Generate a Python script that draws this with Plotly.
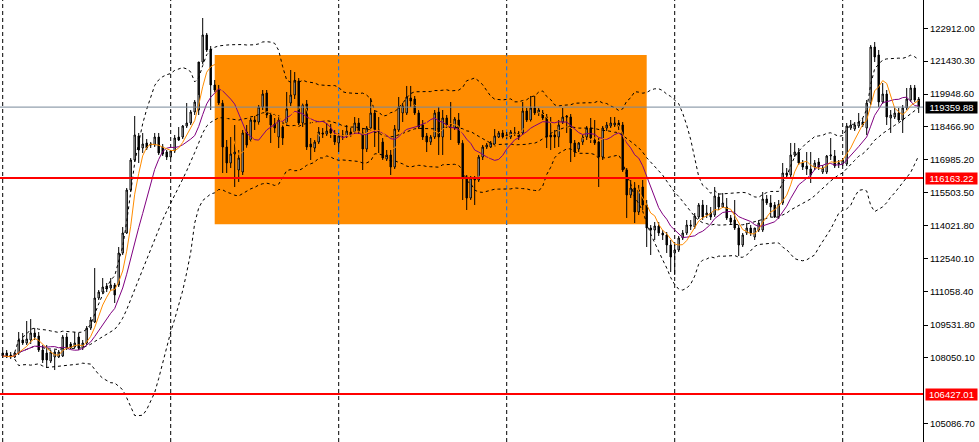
import pandas as pd
import plotly.graph_objects as go

# ---------------- data (BTCUSD H4) ----------------
open_ = [
    108275,108275,108185,108094,108275,108861,108726,108861,109177,109042,
    108410,108275,107914,108094,108094,108140,108996,108681,108545,108996,
    108500,108726,109401,109672,110754,111025,111296,111205,111341,111341,
    112783,113685,115623,116975,118058,117516,117742,117652,117652,118012,
    117561,117336,117110,117381,118012,118012,118508,118643,119139,119229,
    121393,122611,121979,120357,120131,119545,117561,116840,117246,116524,
    116434,118238,117877,118778,118688,119364,119996,119004,118598,118012,
    118462,118643,119545,119906,120537,118643,119500,117697,117516,117787,
    118193,118148,118372,118103,117742,118058,118058,118238,118238,118643,
    118193,117471,118417,119094,118328,117787,117020,117201,116659,118328,
    119094,119094,119770,119725,119094,118553,118058,117787,118012,119139,
    118012,118868,118598,118417,118778,117742,116208,115262,116163,116074,
    117110,117561,117561,117652,118012,118193,118058,118012,118148,118193,
    118193,119184,118778,119319,119094,119094,118913,118103,118103,118012,
    118688,118959,118913,117742,117471,117787,118012,118417,117877,117787,
    117110,118417,118508,118553,118643,118553,116524,115398,115713,114631,
    115758,114947,113910,113820,114000,113685,113594,113143,112783,112918,
    113459,113685,114045,113955,114406,114947,114496,114586,114496,115307,
    114856,114856,114361,114270,113910,113143,113685,113910,113504,113820,
    113820,115217,115037,114947,114406,115037,116389,116299,117201,117336,
    116840,116705,116569,116659,116885,116434,116434,117156,117156,116795,
    116795,116795,118417,118372,118508,118688,118417,119545,122069,121709,
    119590,119951,118868,118913,119094,118778,119319,119680,120221,119725,
]
high = [
    108365,108410,108320,108320,109222,109177,109717,109807,109401,109222,
    108636,108636,108410,108410,108410,109087,109177,108771,109222,109177,
    108861,109492,109897,112106,111115,111655,111431,111655,111431,113053,
    113954,115713,117065,118959,118193,118193,117922,117787,118193,118193,
    117697,117426,117426,118103,118462,118553,119545,119229,119680,119906,
    123376,122701,122115,120582,120357,119680,117877,118012,118553,117426,
    118328,118553,118868,118959,119455,120131,120131,119139,118868,119004,
    118643,120041,121032,120942,120671,119545,119680,117967,117877,118462,
    118417,118643,118598,118328,118193,118328,118553,118417,118913,118868,
    118417,118508,119770,119229,118913,117967,117426,117426,118553,119815,
    119545,120312,120312,119861,119229,118778,118193,118103,119229,119364,
    119229,119004,119590,118913,119094,117877,116299,116254,116254,117201,
    117652,117742,117832,118372,118283,118328,118238,118328,118462,118283,
    119590,119319,119861,119861,119319,119229,119049,118913,118328,118778,
    119319,119004,119049,117877,117787,118103,118508,118868,118778,117967,
    118508,118688,118913,118913,118778,118688,116614,116074,115984,115849,
    116074,115172,114045,114180,114180,113820,113729,113369,113143,113550,
    113820,114270,114270,114586,115037,115172,114947,114856,115758,115488,
    115488,115262,114496,115172,114045,113685,114135,114045,113910,114270,
    115533,115398,115398,115082,115172,116840,116614,117742,117742,117516,
    116975,117336,117336,116975,117065,116750,117201,117967,117426,116975,
    117065,118643,118778,118688,119094,118868,119680,122159,122295,121934,
    120447,120131,119229,119319,119319,119455,120221,120357,120357,119815,
]
low = [
    108049,108049,108004,108049,108185,108636,108636,108681,108861,108320,
    107824,107598,107824,107508,108049,108094,108410,108455,108500,108410,
    108410,108636,109312,109627,110664,110935,111025,111070,110529,111250,
    112693,113640,115533,116885,116840,117291,117426,117516,117561,117201,
    117156,116975,117065,117291,117832,117922,118417,118553,119004,119004,
    121303,121844,119229,120041,119455,116389,116389,116614,115758,115984,
    116299,117516,117787,118328,118553,119229,118868,117742,118193,117516,
    117652,118508,119410,119725,118553,118462,117426,116975,117336,117697,
    117967,118058,117967,117652,117336,117877,117967,118012,118148,118148,
    116524,117336,118328,117561,117291,116975,116930,116299,116569,118238,
    118688,119004,119364,119004,118372,117877,117336,117652,117922,117201,
    117201,118417,117877,118328,117652,115172,114721,115172,114947,115984,
    116975,117471,117516,117561,117967,117922,117922,117922,118058,117877,
    118103,118688,118688,119004,118959,118778,117516,117426,117516,117561,
    118598,118193,116885,117110,117336,117652,117877,117742,117652,115758,
    116975,118283,118417,118462,118328,116434,114361,115262,114135,114496,
    114721,113053,112693,113369,113550,113369,112783,111926,111791,112828,
    113369,113594,113820,113865,114315,114270,114361,114270,114406,114721,
    114811,114270,114045,113820,112648,113053,113594,113550,113369,113729,
    113729,114947,114406,114361,114316,114947,116164,116209,117110,116750,
    116524,116299,115938,116524,116524,116344,116344,116975,116614,116614,
    116705,116705,118328,118283,118417,118462,118103,119455,121393,119364,
    119500,118553,118193,118823,118688,118193,119229,119590,119590,119094,
]
close = [
    108140,108094,108094,108275,108861,108726,108906,109177,108996,108410,
    107959,107959,108320,108320,108320,108996,108500,108500,108726,108500,
    108726,109401,109762,110754,111025,111250,111160,111341,110890,112783,
    113685,115623,116975,118103,117426,117697,117516,117697,118012,117291,
    117246,117110,117381,117967,117877,118508,118643,119139,119590,121393,
    122611,121934,120357,120131,119545,117561,116840,117246,117336,117065,
    118193,117652,118778,118688,119364,119951,119004,118553,118417,118778,
    117967,119274,119906,120537,118643,119500,117561,117561,117787,118238,
    118148,118283,118193,117787,118058,118103,118283,118103,118643,118238,
    117471,118417,119094,118328,118238,117065,117201,116659,118373,119364,
    119410,119815,119635,119094,118462,118012,117787,118012,119094,118012,
    118868,118553,118553,118823,117742,116208,115262,116163,116074,117110,
    117561,117652,117742,118058,118193,118012,118103,118238,118193,118012,
    119184,118778,119319,119094,119229,118868,118012,118012,118012,118553,
    118913,118913,117742,117336,117742,118012,118417,117967,117742,117110,
    118417,118553,118643,118643,118462,116524,115398,115713,114631,115623,
    114947,113910,113820,114000,113685,113594,113143,112602,112918,113459,
    113685,114045,114000,114451,114947,114406,114586,114406,115352,114856,
    115037,114361,114180,113910,113143,113594,113910,113685,113910,114135,
    115217,115037,114856,114406,114992,116389,116299,117201,117336,116840,
    116659,116569,116299,116840,116659,116614,117156,117201,116705,116840,
    116975,118508,118553,118553,118688,118553,119545,122069,121618,119590,
    119951,118913,119004,119094,118778,119319,119725,120221,119680,119359.88,
]

# price-axis tick labels
tick_values = [122912.00, 121430.30, 119948.60, 118466.90, 116985.20, 115503.50,
               114021.80, 112540.10, 111058.40, 109531.80, 108050.10, 105086.70]
tick_labels = ["122912.00", "121430.30", "119948.60", "118466.90", "116985.20", "115503.50",
               "114021.80", "112540.10", "111058.40", "109531.80", "108050.10", "105086.70"]

# horizontal levels
bid_price = 119359.88
red_levels = [116163.22, 106427.01]

# weekly period separators (bar index)
separator_bars = [0, 42, 84, 126, 168, 210]

# highlighted range rectangle (bar index / price)
rect_bars = [53, 161]
rect_prices = [114076, 121709]

# indicator settings
ma_fast_period = 5
ma_slow_period = 10
bb_period = 20
bb_dev = 2

# ---------------- indicators ----------------
cs = pd.Series(close)
ma_fast = cs.rolling(ma_fast_period, min_periods=1).mean()
ma_slow = cs.rolling(ma_slow_period, min_periods=1).mean()
bb_mid = cs.rolling(bb_period, min_periods=4).mean()
bb_sd = cs.rolling(bb_period, min_periods=4).std(ddof=0)
bb_up = bb_mid + bb_dev * bb_sd
bb_lo = bb_mid - bb_dev * bb_sd

idx = list(range(len(close)))

# ---------------- figure ----------------
fig = go.Figure()

for series in (bb_up, bb_mid, bb_lo):
    fig.add_trace(go.Scatter(x=idx, y=series, mode="lines",
                             line=dict(color="black", width=1, dash="3px,3px"),
                             hoverinfo="skip", showlegend=False))

fig.add_trace(go.Scatter(x=idx, y=ma_slow, mode="lines",
                         line=dict(color="#800080", width=1),
                         hoverinfo="skip", showlegend=False))
fig.add_trace(go.Scatter(x=idx, y=ma_fast, mode="lines",
                         line=dict(color="#FF8C00", width=1),
                         hoverinfo="skip", showlegend=False))

fig.add_trace(go.Candlestick(
    x=idx, open=open_, high=high, low=low, close=close,
    increasing=dict(line=dict(color="black", width=1), fillcolor="white"),
    decreasing=dict(line=dict(color="black", width=1), fillcolor="black"),
    whiskerwidth=0, showlegend=False, hoverinfo="skip"))

# rectangle (background)
fig.add_shape(type="rect", xref="x", yref="y",
              x0=rect_bars[0], x1=rect_bars[1], y0=rect_prices[0], y1=rect_prices[1],
              fillcolor="#FF8C00", line=dict(width=0), layer="below")

# period separators (inverted colour inside rectangle)
for b in separator_bars:
    fig.add_shape(type="line", xref="x", yref="paper", x0=b, x1=b, y0=0, y1=1,
                  line=dict(color="black", width=1, dash="4px,3px"), layer="below")
    if rect_bars[0] <= b <= rect_bars[1]:
        fig.add_shape(type="line", xref="x", yref="y", x0=b, x1=b,
                      y0=rect_prices[0], y1=rect_prices[1],
                      line=dict(color="#0073FF", width=1, dash="4px,3px"), layer="below")

# horizontal lines
fig.add_shape(type="line", xref="paper", yref="y", x0=0, x1=1, y0=bid_price, y1=bid_price,
              line=dict(color="#778899", width=1), layer="above")
for lv in red_levels:
    fig.add_shape(type="line", xref="paper", yref="y", x0=0, x1=1, y0=lv, y1=lv,
                  line=dict(color="#FF0000", width=2), layer="above")

# price labels on the axis
labels = [(bid_price, "black")] + [(lv, "#FF0000") for lv in red_levels]
for lv, col in labels:
    fig.add_annotation(xref="paper", yref="y", x=1, y=lv, xanchor="left", yanchor="middle",
                       xshift=2, text=f"{lv:.2f}", showarrow=False,
                       font=dict(family="Liberation Sans, Arial, sans-serif", size=9.5, color="white"),
                       bgcolor=col, borderpad=1, width=49, height=9, align="center")

fig.update_layout(
    width=979, height=442,
    margin=dict(l=0, r=56, t=0, b=0),
    paper_bgcolor="white", plot_bgcolor="white",
    boxgap=0.5,
    showlegend=False,
    xaxis=dict(range=[-0.675, 230.075], showgrid=False, zeroline=False,
               showticklabels=False, ticks="", rangeslider=dict(visible=False),
               showline=False, fixedrange=True),
    yaxis=dict(range=[104263, 124188], side="right", showgrid=False, zeroline=False,
               showline=True, linecolor="black", linewidth=1,
               ticks="outside", ticklen=4, tickcolor="black", tickwidth=1,
               tickvals=tick_values, ticktext=tick_labels,
               tickfont=dict(family="Liberation Sans, Arial, sans-serif", size=9.5, color="black"),
               fixedrange=True),
)

fig.write_html("out.html", config={"displayModeBar": False},
               post_script="document.body.style.margin='0';document.body.style.padding='0';")
